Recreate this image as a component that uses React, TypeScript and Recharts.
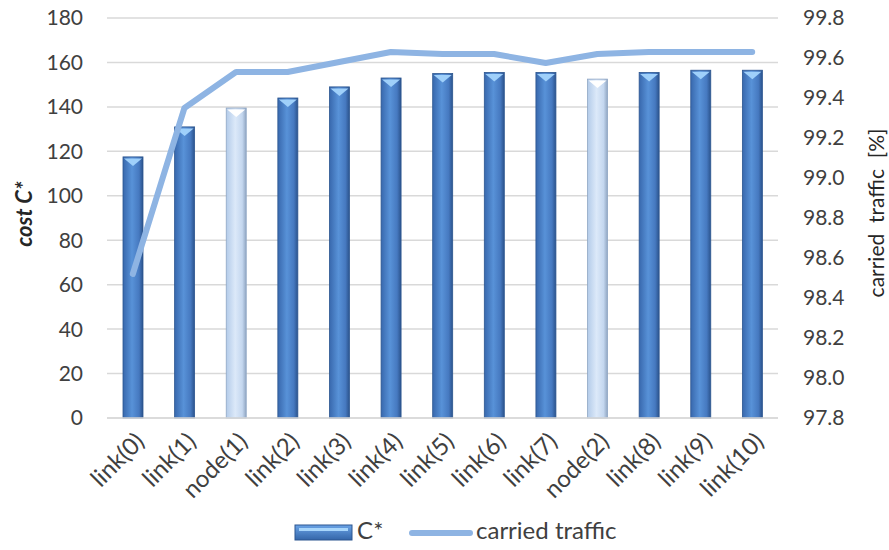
import { ComposedChart, Bar, Line, XAxis, YAxis, CartesianGrid, Legend } from "recharts";

const categories = ["link(0)", "link(1)", "node(1)", "link(2)", "link(3)", "link(4)", "link(5)", "link(6)", "link(7)", "node(2)", "link(8)", "link(9)", "link(10)"];
const costValues = [117.5, 131, 139.5, 144, 149, 153, 155, 155.5, 155.5, 152.5, 155.5, 156.5, 156.5];
const trafficValues = [98.52, 99.35, 99.53, 99.53, 99.58, 99.63, 99.62, 99.62, 99.575, 99.62, 99.63, 99.63, 99.63];
const costTicks = [0, 20, 40, 60, 80, 100, 120, 140, 160, 180];
const trafficTicks = [97.8, 98.0, 98.2, 98.4, 98.6, 98.8, 99.0, 99.2, 99.4, 99.6, 99.8];

const FONT = "Lato, 'Open Sans', sans-serif";
const TXT = "#404040";

const data = categories.map((c, i) => ({ name: c, cost: costValues[i], traffic: trafficValues[i] }));

function ColumnShape(props: any) {
  const { x, y, width, height, payload } = props;
  const light = payload.name.startsWith("node");
  const grad = light ? "url(#gNode)" : "url(#gLink)";
  const cap = light ? "#FFFFFF" : "#9FD0FA";
  const edge = light ? "#8FA6C4" : "#2C5690";
  return (
    <g>
      <rect x={x} y={y} width={width} height={height} fill={grad} stroke={edge} strokeWidth={0.8} />
      <polygon points={`${x + 1},${y + 1.5} ${x + width - 1},${y + 1.5} ${x + width / 2},${y + 9}`} fill={cap} />
    </g>
  );
}

function XTick(props: any) {
  const { x, y, payload } = props;
  return (
    <g transform={`translate(${x + 6},${y + 10})`}>
      <text x={0} y={0} dy={10} textAnchor="end" transform="rotate(-45)" fontSize={24} fill={TXT} fontFamily={FONT}>
        {payload.value}
      </text>
    </g>
  );
}

function LeftTitle(props: any) {
  const { viewBox } = props;
  const cx = viewBox.x - 24;
  const cy = viewBox.y + viewBox.height / 2 - 4;
  return (
    <text x={cx} y={cy} transform={`rotate(-90, ${cx}, ${cy})`} textAnchor="middle" dominantBaseline="central" fontSize={22} fontWeight={700} fontStyle="italic" fill="#262626" fontFamily={FONT}>
      cost  C*
    </text>
  );
}

function RightTitle(props: any) {
  const { viewBox } = props;
  const cx = viewBox.x + viewBox.width + 27;
  const cy = viewBox.y + viewBox.height / 2 - 5;
  return (
    <text x={cx} y={cy} transform={`rotate(-90, ${cx}, ${cy})`} textAnchor="middle" dominantBaseline="central" fontSize={21} fill="#262626" fontFamily={FONT} style={{ whiteSpace: "pre" }}>
      {"carried  traffic  [%]"}
    </text>
  );
}

function LegendBox() {
  const txt = { position: "absolute" as const, top: 4, fontFamily: FONT, fontSize: 24, color: TXT, lineHeight: "32px", whiteSpace: "nowrap" as const };
  return (
    <div style={{ position: "relative", width: 889, height: 40 }}>
      <svg width={60} height={18} style={{ position: "absolute", left: 294, top: 14 }}>
        <defs>
          <linearGradient id="gLegend" x1="0" y1="0" x2="0" y2="1">
            <stop offset="0%" stopColor="#6AA3E6" />
            <stop offset="100%" stopColor="#3466A9" />
          </linearGradient>
        </defs>
        <rect x={1} y={1} width={57} height={15} fill="url(#gLegend)" stroke="#2C5690" strokeWidth={1} />
        <rect x={5} y={4} width={49} height={3} fill="#A8D6FB" />
      </svg>
      <span style={{ ...txt, left: 357 }}>C*</span>
      <svg width={66} height={18} style={{ position: "absolute", left: 408, top: 14 }}>
        <line x1={4} y1={9} x2={62} y2={9} stroke="#8EB4E3" strokeWidth={6} strokeLinecap="round" />
      </svg>
      <span style={{ ...txt, left: 476 }}>carried traffic</span>
    </div>
  );
}

export default function App() {
  return (
    <div style={{ width: 889, height: 550, background: "#fff" }}>
      <style>{`body{margin:0}`}</style>
      <ComposedChart width={889} height={550} data={data} margin={{ top: 18, right: 41, bottom: 0, left: 47 }}>
        <defs>
          <linearGradient id="gLink" x1="0" y1="0" x2="1" y2="0">
            <stop offset="0%" stopColor="#3868AD" />
            <stop offset="45%" stopColor="#5892D8" />
            <stop offset="80%" stopColor="#4679C0" />
            <stop offset="100%" stopColor="#2B538C" />
          </linearGradient>
          <linearGradient id="gNode" x1="0" y1="0" x2="1" y2="0">
            <stop offset="0%" stopColor="#B3CBE9" />
            <stop offset="45%" stopColor="#DCE9F9" />
            <stop offset="80%" stopColor="#C4D7EF" />
            <stop offset="100%" stopColor="#90A6C2" />
          </linearGradient>
        </defs>
        <CartesianGrid yAxisId="l" vertical={false} stroke="#D9D9D9" strokeWidth={1.5} />
        <XAxis dataKey="name" interval={0} height={92} tickLine={false} axisLine={{ stroke: "#D9D9D9", strokeWidth: 1.5 }} tick={<XTick />} />
        <YAxis
          yAxisId="l"
          width={60}
          domain={[0, 180]}
          ticks={costTicks}
          axisLine={false}
          tickLine={false}
          tickSize={0}
          tickMargin={24}
          tick={{ fontSize: 21, fill: TXT, fontFamily: FONT }}
          label={<LeftTitle />}
        />
        <YAxis
          yAxisId="r"
          orientation="right"
          width={70}
          domain={[97.8, 99.8]}
          ticks={trafficTicks}
          axisLine={false}
          tickLine={false}
          tickSize={0}
          tickMargin={25}
          tickFormatter={(v: number) => v.toFixed(1)}
          tick={{ fontSize: 21, fill: TXT, fontFamily: FONT }}
          label={<RightTitle />}
        />
        <Bar yAxisId="l" dataKey="cost" name="C*" barSize={20} shape={<ColumnShape />} isAnimationActive={false} />
        <Line yAxisId="r" type="linear" dataKey="traffic" name="carried traffic" stroke="#8EB4E3" strokeWidth={6} strokeLinecap="round" strokeLinejoin="round" dot={false} activeDot={false} isAnimationActive={false} />
        <Legend verticalAlign="bottom" content={<LegendBox />} wrapperStyle={{ left: 0, width: 889, height: 40 }} />
      </ComposedChart>
    </div>
  );
}
